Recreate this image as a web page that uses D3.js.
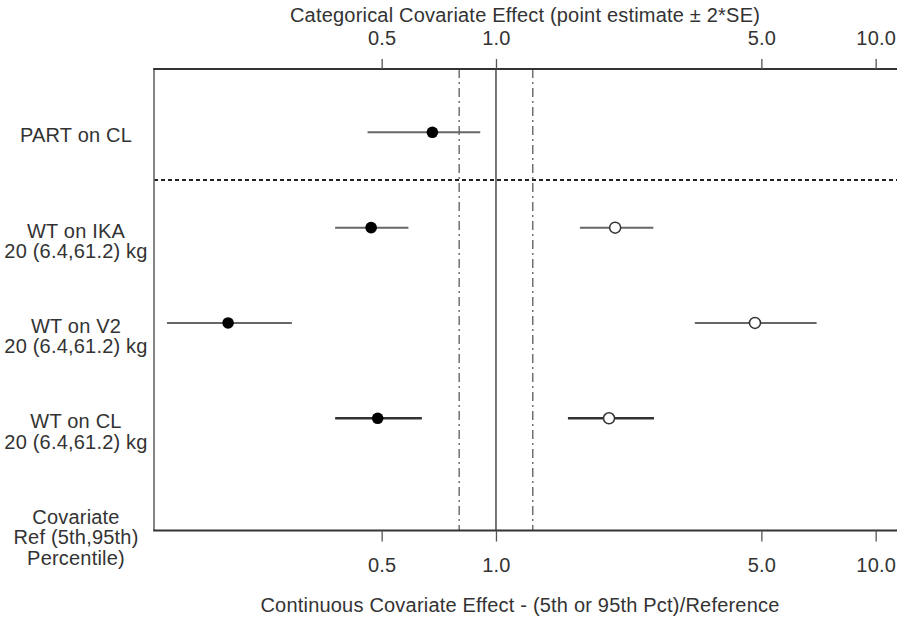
<!DOCTYPE html>
<html>
<head>
<meta charset="utf-8">
<script src="https://cdn.jsdelivr.net/npm/d3@7"></script>
<style>
  html, body { margin: 0; padding: 0; background: #fff; }
  svg { display: block; }
  text { font-family: "Liberation Sans", Arial, sans-serif; fill: #333; letter-spacing: 0.2px; }
</style>
</head>
<body>
<script>
// Rows of the forest plot (top to bottom); the last row holds the covariate header
const rowKeys = ["PART on CL", "WT on IKA", "WT on V2", "WT on CL", "Covariate"];
const rowLabels = [
  ["PART on CL"],
  ["WT on IKA", "20 (6.4,61.2) kg"],
  ["WT on V2", "20 (6.4,61.2) kg"],
  ["WT on CL", "20 (6.4,61.2) kg"],
  ["Covariate", "Ref (5th,95th)", "Percentile)"]
];

// Categorical effect (point estimate ± 2*SE)
const catRows = ["PART on CL"];
const catEst = [0.68];
const catLo = [0.459];
const catHi = [0.909];

// Continuous effect at 5th percentile (filled) and 95th percentile (open)
const contRows = ["WT on IKA", "WT on V2", "WT on CL"];
const p5Est = [0.469, 0.197, 0.488];
const p5Lo = [0.377, 0.136, 0.377];
const p5Hi = [0.588, 0.290, 0.638];
const p95Est = [2.06, 4.81, 1.985];
const p95Lo = [1.664, 3.34, 1.547];
const p95Hi = [2.596, 6.99, 2.607];

// Axis ticks and reference lines
const tickValues = [0.5, 1.0, 5.0, 10.0];
const refLine = 1.0;
const boundLines = [0.8, 1.25];
const xDomain = [0.1257, 11.52];

const topTitle = "Categorical Covariate Effect (point estimate \u00b1 2*SE)";
const bottomTitle = "Continuous Covariate Effect - (5th or 95th Pct)/Reference";

const W = 897, H = 622;
const plot = { left: 154, right: 899, top: 69, bottom: 530.5 };
const FS = 20;

const svg = d3.select("body").append("svg").attr("width", W).attr("height", H);

const x = d3.scaleLog().domain(xDomain).range([plot.left, plot.right]);
const y = d3.scalePoint().domain(rowKeys).range([132.3, 513.6]);

// Reference lines
svg.append("line")
  .attr("x1", x(refLine)).attr("x2", x(refLine))
  .attr("y1", plot.top).attr("y2", plot.bottom)
  .attr("stroke", "#555").attr("stroke-width", 1.6);

svg.selectAll(".bound").data(boundLines).enter().append("line")
  .attr("class", "bound")
  .attr("x1", d => x(d)).attr("x2", d => x(d))
  .attr("y1", plot.top).attr("y2", plot.bottom)
  .attr("stroke", "#666").attr("stroke-width", 1.4)
  .attr("stroke-dasharray", "9,4,2,4");

// Separator between categorical and continuous rows
const sepY = (y(rowKeys[0]) + y(rowKeys[1])) / 2;
svg.append("line")
  .attr("x1", plot.left).attr("x2", plot.right)
  .attr("y1", sepY).attr("y2", sepY)
  .attr("stroke", "#222").attr("stroke-width", 2)
  .attr("stroke-dasharray", "4,3");

// Plot frame
svg.append("line").attr("x1", plot.left).attr("x2", plot.left)
  .attr("y1", plot.top).attr("y2", plot.bottom)
  .attr("stroke", "#666").attr("stroke-width", 1.6);
svg.append("line").attr("x1", plot.left - 0.8).attr("x2", plot.right)
  .attr("y1", plot.top).attr("y2", plot.top)
  .attr("stroke", "#333").attr("stroke-width", 2);
svg.append("line").attr("x1", plot.left - 0.8).attr("x2", plot.right)
  .attr("y1", plot.bottom).attr("y2", plot.bottom)
  .attr("stroke", "#333").attr("stroke-width", 2);

// Axes
const fmt = d3.format(".1f");
const gTop = svg.append("g").attr("transform", `translate(0,${plot.top})`)
  .call(d3.axisTop(x).tickValues(tickValues).tickFormat(fmt).tickSize(10).tickPadding(14));
const gBot = svg.append("g").attr("transform", `translate(0,${plot.bottom})`)
  .call(d3.axisBottom(x).tickValues(tickValues).tickFormat(fmt).tickSize(11).tickPadding(16));
[gTop, gBot].forEach(g => {
  g.select(".domain").remove();
  g.selectAll(".tick line").attr("stroke", "#555").attr("stroke-width", 1.3);
  g.selectAll(".tick text").attr("font-size", FS).attr("fill", "#333")
    .attr("font-family", "Liberation Sans, Arial, sans-serif");
});

// Titles
svg.append("text").attr("x", 525).attr("y", 22).attr("text-anchor", "middle")
  .attr("font-size", FS).text(topTitle);
svg.append("text").attr("x", 520).attr("y", 612).attr("text-anchor", "middle")
  .attr("font-size", FS).text(bottomTitle);

// Row labels
rowKeys.forEach((k, i) => {
  const t = svg.append("text").attr("text-anchor", "middle").attr("font-size", FS);
  rowLabels[i].forEach((line, j) => {
    t.append("tspan").attr("x", 76).attr("y", y(k) + 10 + j * 20.5).text(line);
  });
});

// Categorical estimates
const cat = catRows.map((r, i) => ({ r, est: catEst[i], lo: catLo[i], hi: catHi[i] }));
svg.selectAll(".catci").data(cat).enter().append("line")
  .attr("x1", d => x(d.lo)).attr("x2", d => x(d.hi))
  .attr("y1", d => y(d.r)).attr("y2", d => y(d.r))
  .attr("stroke", "#666").attr("stroke-width", 2);
svg.selectAll(".catpt").data(cat).enter().append("circle")
  .attr("cx", d => x(d.est)).attr("cy", d => y(d.r)).attr("r", 5.8)
  .attr("fill", "#000");

// Continuous estimates
const ciColor = ["#666", "#666", "#333"];
const ciWidth = [2, 2, 2.6];
contRows.forEach((r, i) => {
  const yy = y(r);
  [[p5Lo[i], p5Hi[i]], [p95Lo[i], p95Hi[i]]].forEach(([lo, hi]) => {
    svg.append("line")
      .attr("x1", x(lo)).attr("x2", x(hi)).attr("y1", yy).attr("y2", yy)
      .attr("stroke", ciColor[i]).attr("stroke-width", ciWidth[i]);
  });
  svg.append("circle").attr("cx", x(p5Est[i])).attr("cy", yy).attr("r", 5.8)
    .attr("fill", "#000");
  svg.append("circle").attr("cx", x(p95Est[i])).attr("cy", yy).attr("r", 5.5)
    .attr("fill", "#fff").attr("stroke", "#333").attr("stroke-width", 1.5);
});
</script>
</body>
</html>
